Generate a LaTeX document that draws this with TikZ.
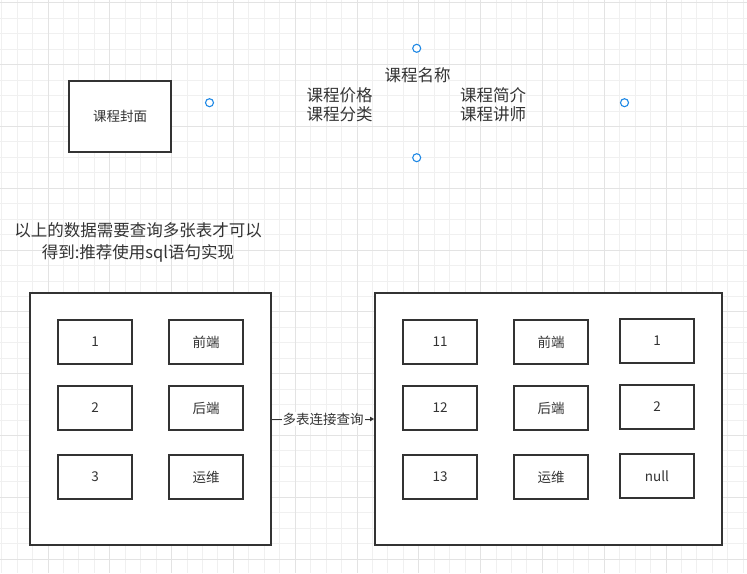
\documentclass[tikz,border=0pt]{standalone}
\usepackage{fontspec}
\setmainfont{Noto Sans CJK SC}
\usetikzlibrary{arrows.meta, positioning}

\definecolor{ink}{HTML}{333333}
\definecolor{gridminor}{HTML}{F0F0F0}
\definecolor{gridmajor}{HTML}{E3E3E3}
\definecolor{handleblue}{HTML}{1E88E5}

\begin{document}
\begin{tikzpicture}[
    x=1pt, y=-1pt,
    box/.style={rectangle, draw=ink, line width=2pt, fill=white, inner sep=0pt,
                text=ink, font=\fontsize{13.5}{16}\selectfont},
    cell/.style={box, minimum width=74pt, minimum height=44pt},
    frame/.style={rectangle, draw=ink, line width=2pt, fill=white, inner sep=0pt,
                  minimum height=252pt},
    label/.style={text=ink, align=center, inner sep=0pt},
    handle/.style={circle, draw=handleblue, line width=1.1pt, fill=white,
                   minimum size=8pt, inner sep=0pt},
    arr/.style={-{Triangle[length=4pt, width=4.5pt]}, draw=ink, line width=1pt},
]
\useasboundingbox (0,0) rectangle (747,573);

% Background grid
\foreach \i in {0,...,48}
  \draw[gridminor, line width=1pt] ({1.65+\i*15.45},0) -- ({1.65+\i*15.45},573);
\foreach \i in {0,...,37}
  \draw[gridminor, line width=1pt] (0,{2.9+\i*15.45}) -- (747,{2.9+\i*15.45});
\foreach \i in {0,...,11}
  \draw[gridmajor, line width=1pt] ({-13.8+\i*61.8},0) -- ({-13.8+\i*61.8},573);
\foreach \i in {0,...,9}
  \draw[gridmajor, line width=1pt] (0,{2.9+\i*61.8}) -- (747,{2.9+\i*61.8});

% Course fields
\node[box, minimum width=102pt, minimum height=71pt] (cover) at (120,116.5) {课程封面};
\node[label, font=\fontsize{16.5}{19.5}\selectfont] (name) at (417.5,75) {课程名称};
\node[label, font=\fontsize{16.5}{19.5}\selectfont] (pricecat) at (339.5,104.8) {课程价格\\课程分类};
\node[label, font=\fontsize{16.5}{19.5}\selectfont] (intro) at (493,104.8) {课程简介\\课程讲师};

\node[handle] (hleft) at (209.5,102.7) {};
\node[handle] (htop) at (416.7,48.3) {};
\node[handle] (hbottom) at (416.7,157.7) {};
\node[handle] (hright) at (624.5,102.7) {};

\node[label, font=\fontsize{16.5}{22}\selectfont] (note) at (138,242.5)
  {以上的数据需要查询多张表才可以\\得到:推荐使用sql语句实现};

% Left table
\node[frame, minimum width=241pt] (left) at (150.5,419) {};
\node[cell] (l1) at (95,342) {1};
\node[cell, right=35pt of l1] (lfront) {前端};
\node[cell] (l2) at (95,408) {2};
\node[cell, right=35pt of l2] (lback) {后端};
\node[cell] (l3) at (95,477) {3};
\node[cell, right=35pt of l3] (lops) {运维};

% Right table
\node[frame, minimum width=347pt] (right) at (548.5,419) {};
\node[cell] (r11) at (440,342) {11};
\node[cell, right=35pt of r11] (rfront) {前端};
\node[cell] (ra) at (657,341) {1};
\node[cell] (r12) at (440,408) {12};
\node[cell, right=35pt of r12] (rback) {后端};
\node[cell] (rb) at (657,407) {2};
\node[cell] (r13) at (440,477) {13};
\node[cell, right=35pt of r13] (rops) {运维};
\node[cell] (rnull) at (657,476) {null};

\draw[arr] (left) -- node[fill=white, text=ink, inner sep=1pt,
  font=\fontsize{13.5}{16}\selectfont] (join) {多表连接查询} (right);

\end{tikzpicture}
\end{document}
